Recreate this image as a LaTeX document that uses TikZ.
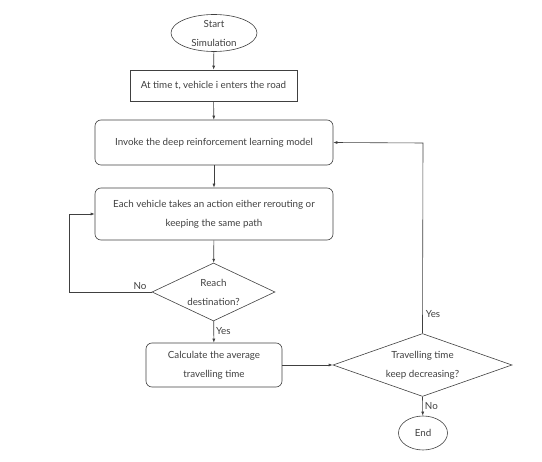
\documentclass[tikz,border=0pt]{standalone}
\usepackage{fontspec}
\setmainfont{Lato}
\usetikzlibrary{shapes.geometric,arrows.meta}
\begin{document}
\begin{tikzpicture}[x=1pt,y=-1pt,
  every node/.style={font=\fontsize{9.8}{19}\selectfont, text=black!75},
  ln/.style={draw=black!75, line width=0.6pt},
  arr/.style={ln, -{Latex[length=4pt,width=3pt]}},
  rbox/.style={ln, rounded corners=6pt, align=center, inner sep=0pt},
  sbox/.style={ln, align=center, inner sep=0pt},
  dia/.style={ln, diamond, aspect=2.1, align=center, inner sep=0pt},
  ell/.style={ln, ellipse, align=center, inner sep=0pt},
  lbl/.style={font=\fontsize{9.8}{11}\selectfont}
]
\useasboundingbox (0,0) rectangle (542,462);
\node[ell, minimum width=86pt, minimum height=34pt] (start) at (214,33) {Start\\Simulation};
\node[sbox, minimum width=167pt, minimum height=31pt] (b1) at (213.5,85.5) {At time t, vehicle i enters the road};
\node[rbox, minimum width=238pt, minimum height=45pt] (b2) at (214,142.5) {Invoke the deep reinforcement learning model};
\node[rbox, minimum width=238pt, minimum height=52pt] (b3) at (214,214) {Each vehicle takes an action either rerouting or\\keeping the same path};
\node[dia, minimum width=123pt, minimum height=58pt] (d1) at (213.5,292) {Reach\\destination?};
\node[rbox, minimum width=136pt, minimum height=44pt] (b4) at (214,365) {Calculate the average\\travelling time};
\node[dia, minimum width=179pt, minimum height=58pt] (d2) at (422.5,365) {Travelling time\\keep decreasing?};
\node[ell, minimum width=49pt, minimum height=34pt] (end) at (423,433) {End};
\coordinate (nL) at (69,292);
\coordinate (yT) at (423,143);

\draw[arr] (start) -- (b1);
\draw[arr] (b1) -- (b2);
\draw[arr] (b2) -- (b3);
\draw[arr] (b3) -- (d1);
\draw[arr] (d1) -- node[lbl, right, pos=0.45, inner sep=2pt] {Yes} (b4);
\draw[arr] (d1.west) -- (nL) |- (b3.west);
\node[lbl] (nolbl) at (140,286) {No};
\draw[arr] (b4) -- (d2.west);
\draw[arr] (d2.north) -- (yT) -- (b2.east);
\node[lbl] (yeslbl) at (433,314) {Yes};
\draw[arr] (d2.south) -- node[lbl, right, inner sep=2pt] {No} (end);
\end{tikzpicture}
\end{document}
